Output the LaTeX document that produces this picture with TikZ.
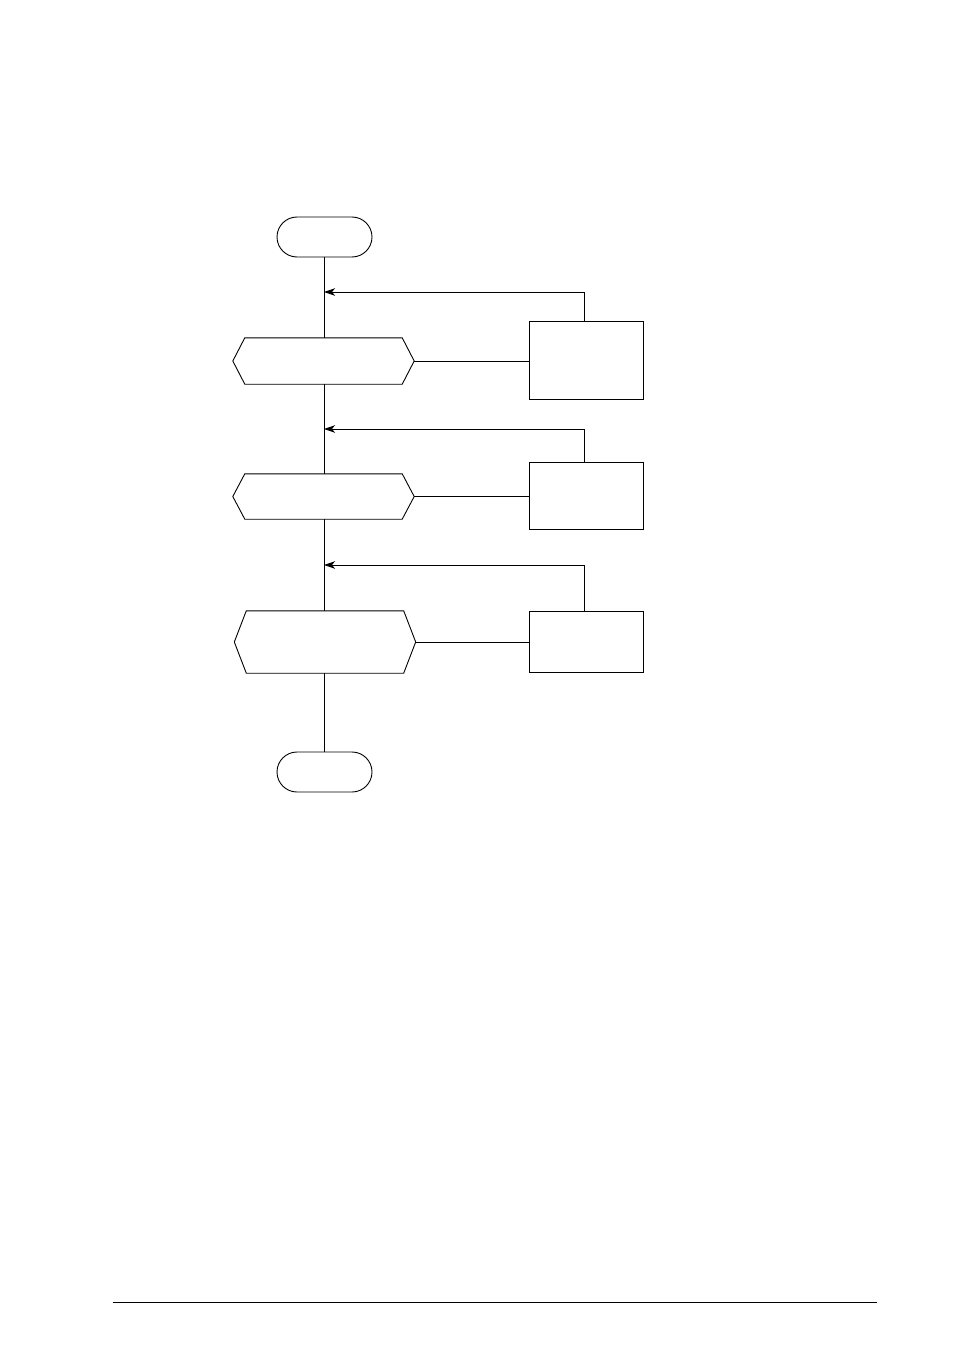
\documentclass[tikz,border=0pt]{standalone}
\usetikzlibrary{arrows.meta}
\begin{document}
\begin{tikzpicture}[x=1pt,y=-1pt,
  ln/.style={line width=0.9pt},
  term/.style={draw,ln,rounded corners=20pt,minimum width=95pt,minimum height=40pt,inner sep=0pt},
  hexbox/.style={draw=none,minimum width=181pt,inner sep=0pt},
  procbox/.style={draw,ln,minimum width=114pt,inner sep=0pt},
  fb/.style={ln,-{Stealth[length=11pt,width=7.5pt,inset=3pt]}}]
\useasboundingbox (0,0) rectangle (954,1351);
% terminals
\node[term] (start) at (324.5,237) {};
\node[term] (stop) at (324.5,772) {};
% hexagon frames
\node[hexbox,minimum height=46pt] (h1) at (323.5,361) {};
\node[hexbox,minimum height=45pt] (h2) at (323.5,496.5) {};
\node[hexbox,minimum height=62pt,minimum width=181pt] (h3) at (325,642) {};
\foreach \h in {h1,h2,h3}{
  \draw[ln] (\h.west) -- ([xshift=12pt]\h.north west) -- ([xshift=-12pt]\h.north east)
    -- (\h.east) -- ([xshift=-12pt]\h.south east) -- ([xshift=12pt]\h.south west) -- cycle;
}
% process boxes
\node[procbox,minimum height=78pt] (b1) at (586,360) {};
\node[procbox,minimum height=67pt] (b2) at (586,495.5) {};
\node[procbox,minimum height=61pt] (b3) at (586,641.5) {};
% merge points on main line
\coordinate (m1) at (324,292);
\coordinate (m2) at (324,429);
\coordinate (m3) at (324,565);
% main line
\draw[ln] (start.south -| m1) -- (h1.north -| m1);
\draw[ln] (h1.south -| m1) -- (h2.north -| m1);
\draw[ln] (h2.south -| m1) -- (h3.north -| m1);
\draw[ln] (h3.south -| m1) -- (stop.north -| m1);
% links hex -> box
\draw[ln] (h1.east) -- (h1.east -| b1.west);
\draw[ln] (h2.east) -- (h2.east -| b2.west);
\draw[ln] (h3.east) -- (h3.east -| b3.west);
% feedback arrows
\draw[fb] ([xshift=-2pt]b1.north) |- (m1);
\draw[fb] ([xshift=-2pt]b2.north) |- (m2);
\draw[fb] ([xshift=-2pt]b3.north) |- (m3);
% bottom rule
\coordinate (rl) at (112.5,1302.3);
\coordinate (rr) at (876.7,1302.3);
\draw[ln] (rl) -- (rr);
\end{tikzpicture}
\end{document}
